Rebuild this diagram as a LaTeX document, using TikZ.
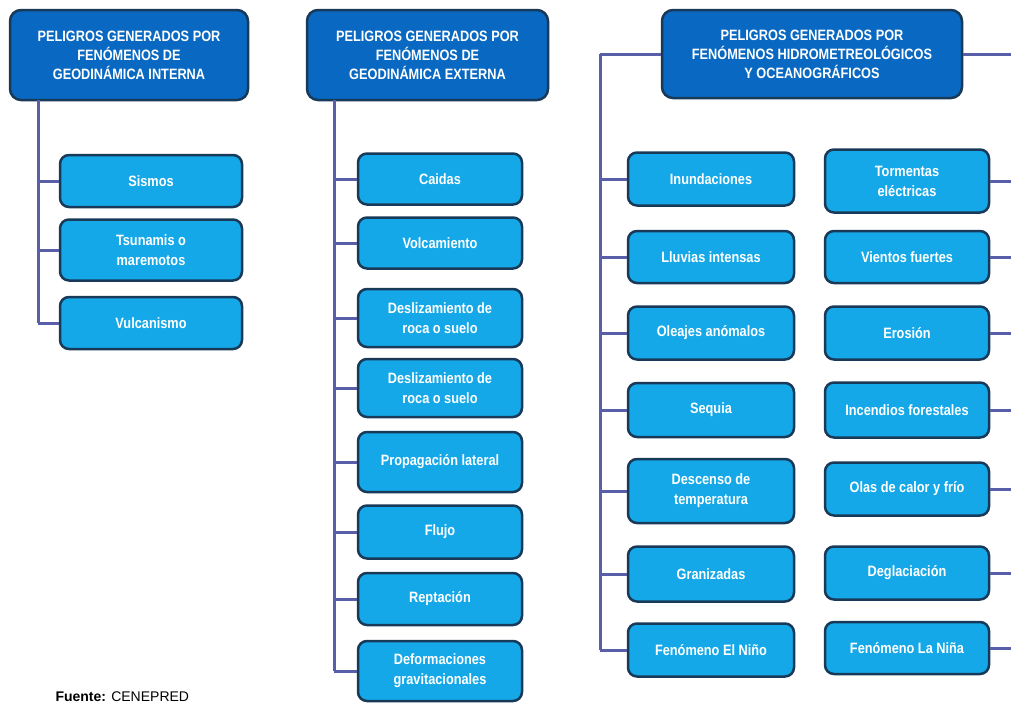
\documentclass[tikz,border=0pt]{standalone}
\usepackage{fontspec}
\setmainfont{Liberation Sans}
\newfontfamily\cajafont{Liberation Sans}[FakeStretch=0.85]
\usepackage{tikz}
\usetikzlibrary{positioning}
\definecolor{azulosc}{RGB}{8,104,194}
\definecolor{celeste}{RGB}{20,168,232}
\definecolor{borde}{RGB}{24,58,88}
\definecolor{linea}{RGB}{88,94,168}

\begin{document}
\begin{tikzpicture}[x=1pt,y=-1pt,
   cabeza/.style={draw=borde,fill=azulosc,line width=2.5pt,rounded corners=11pt,
     text=white,align=center,inner sep=0pt,
     font=\cajafont\bfseries\fontsize{15}{19}\selectfont},
   hoja/.style={draw=borde,fill=celeste,line width=2.5pt,rounded corners=9pt,
     text=white,align=center,inner sep=0pt,
     font=\cajafont\bfseries\fontsize{15}{20}\selectfont},
   rama/.style={draw=linea,line width=3pt}]
   \useasboundingbox (0,0) rectangle (1011,704);
   \fill[white] (0,0) rectangle (1011,704);
   % encabezados
   \node[cabeza,minimum width=238pt,minimum height=90pt] (hint) at (129,55) {PELIGROS GENERADOS POR\\FENÓMENOS DE\\GEODINÁMICA INTERNA};
   \node[cabeza,minimum width=241pt,minimum height=90pt] (hext) at (427.5,55) {PELIGROS GENERADOS POR\\FENÓMENOS DE\\GEODINÁMICA EXTERNA};
   \node[cabeza,minimum width=300pt,minimum height=88pt] (hhid) at (812,54) {PELIGROS GENERADOS POR\\FENÓMENOS HIDROMETREOLÓGICOS\\Y OCEANOGRÁFICOS};
   % geodinamica interna
   \node[hoja,minimum width=182pt,minimum height=52pt] (sismos) at (151,181) {Sismos};
   \node[hoja,minimum width=182pt,minimum height=61pt] (tsunami) at (151,250) {Tsunamis o\\maremotos};
   \node[hoja,minimum width=182pt,minimum height=52pt] (vulcan) at (151,323) {Vulcanismo};
   % geodinamica externa
   \node[hoja,minimum width=164pt,minimum height=51pt] (caidas) at (440,179) {Caidas};
   \node[hoja,minimum width=164pt,minimum height=51pt] (volcam) at (440,243) {Volcamiento};
   \node[hoja,minimum width=164pt,minimum height=58pt] (deslA) at (440,318) {Deslizamiento de\\roca o suelo};
   \node[hoja,minimum width=164pt,minimum height=58pt] (deslB) at (440,388) {Deslizamiento de\\roca o suelo};
   \node[hoja,minimum width=164pt,minimum height=60pt] (propag) at (440,462) {Propagación lateral};
   \node[hoja,minimum width=164pt,minimum height=53pt] (flujo) at (440,532) {Flujo};
   \node[hoja,minimum width=164pt,minimum height=52pt] (reptac) at (440,599) {Reptación};
   \node[hoja,minimum width=164pt,minimum height=60pt] (deform) at (440,671) {Deformaciones\\gravitacionales};
   % hidrometeorologicos, izquierda
   \node[hoja,minimum width=166pt,minimum height=53pt] (inund) at (711,179) {Inundaciones};
   \node[hoja,minimum width=166pt,minimum height=52pt] (lluvias) at (711,257) {Lluvias intensas};
   \node[hoja,minimum width=166pt,minimum height=53pt] (oleajes) at (711,333) {Oleajes anómalos};
   \node[hoja,minimum width=166pt,minimum height=54pt] (sequia) at (711,410) {Sequia};
   \node[hoja,minimum width=166pt,minimum height=64pt] (descenso) at (711,491) {Descenso de\\temperatura};
   \node[hoja,minimum width=166pt,minimum height=55pt] (graniz) at (711,574) {Granizadas};
   \node[hoja,minimum width=166pt,minimum height=53pt] (nino) at (711,650) {Fenómeno El Niño};
   % hidrometeorologicos, derecha
   \node[hoja,minimum width=164pt,minimum height=63pt] (torment) at (907,181) {Tormentas\\eléctricas};
   \node[hoja,minimum width=164pt,minimum height=52pt] (vientos) at (907,257) {Vientos fuertes};
   \node[hoja,minimum width=164pt,minimum height=53pt] (erosion) at (907,333) {Erosión};
   \node[hoja,minimum width=164pt,minimum height=55pt] (incend) at (907,410) {Incendios forestales};
   \node[hoja,minimum width=164pt,minimum height=53pt] (olas) at (907,489) {Olas de calor y frío};
   \node[hoja,minimum width=164pt,minimum height=53pt] (deglac) at (907,573) {Deglaciación};
   \node[hoja,minimum width=164pt,minimum height=52pt] (nina) at (907,648) {Fenómeno La Niña};
   % puntos de las lineas
   \coordinate (i0) at (38,100);
   \coordinate (i1) at (38,181);
   \coordinate (i2) at (38,250);
   \coordinate (i3) at (38,323);
   \coordinate (e0) at (334,100);
   \coordinate (e1) at (334,179);
   \coordinate (e2) at (334,243);
   \coordinate (e3) at (334,318);
   \coordinate (e4) at (334,388);
   \coordinate (e5) at (334,462);
   \coordinate (e6) at (334,532);
   \coordinate (e7) at (334,599);
   \coordinate (e8) at (334,671);
   \coordinate (l0) at (600,54);
   \coordinate (l1) at (600,179);
   \coordinate (l2) at (600,257);
   \coordinate (l3) at (600,333);
   \coordinate (l4) at (600,410);
   \coordinate (l5) at (600,491);
   \coordinate (l6) at (600,574);
   \coordinate (l7) at (600,650);
   \coordinate (r0) at (1030,54);
   \coordinate (r1) at (1030,181);
   \coordinate (r2) at (1030,257);
   \coordinate (r3) at (1030,333);
   \coordinate (r4) at (1030,410);
   \coordinate (r5) at (1030,489);
   \coordinate (r6) at (1030,573);
   \coordinate (r7) at (1030,648);
   \path[rama]%
     (i0) edge (i3) %interna
     (i1) edge (sismos.west)
     (i2) edge (tsunami.west)
     (i3) edge (vulcan.west)
     (e0) edge (e8) %externa
     (e1) edge (caidas.west)
     (e2) edge (volcam.west)
     (e3) edge (deslA.west)
     (e4) edge (deslB.west)
     (e5) edge (propag.west)
     (e6) edge (flujo.west)
     (e7) edge (reptac.west)
     (e8) edge (deform.west)
     (hhid.west) edge (l0) %hidro izq
     (l0) edge (l7)
     (l1) edge (inund.west)
     (l2) edge (lluvias.west)
     (l3) edge (oleajes.west)
     (l4) edge (sequia.west)
     (l5) edge (descenso.west)
     (l6) edge (graniz.west)
     (l7) edge (nino.west)
     (hhid.east) edge (r0) %hidro der
     (r0) edge (r7)
     (torment.east) edge (r1)
     (vientos.east) edge (r2)
     (erosion.east) edge (r3)
     (incend.east) edge (r4)
     (olas.east) edge (r5)
     (deglac.east) edge (r6)
     (nina.east) edge (r7);
   \node[anchor=base west,font=\fontsize{14}{16}\selectfont] (fuente) at (52,701) {\textbf{Fuente:} CENEPRED};
\end{tikzpicture}
\end{document}
